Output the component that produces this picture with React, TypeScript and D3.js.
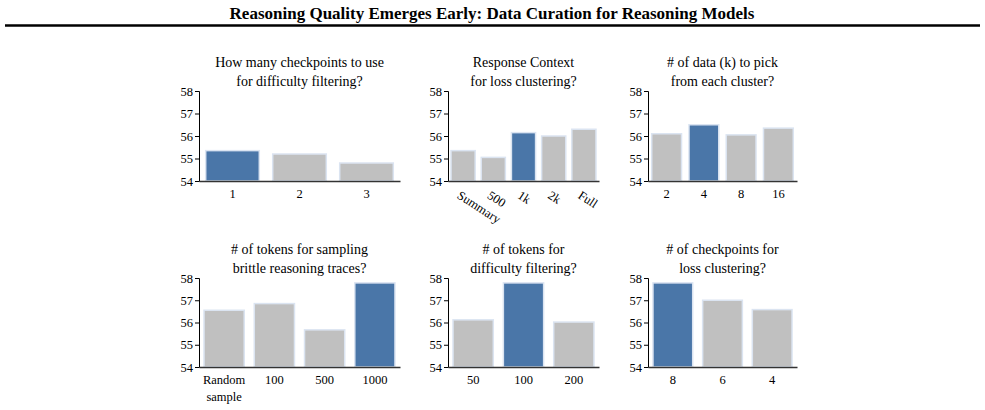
import React, { useEffect, useRef } from 'react'
import * as d3 from 'd3'

// panel titles (two lines each)
const titles = [
  ['How many checkpoints to use', 'for difficulty filtering?'],
  ['Response Context', 'for loss clustering?'],
  ['# of data (k) to pick', 'from each cluster?'],
  ['# of tokens for sampling', 'brittle reasoning traces?'],
  ['# of tokens for', 'difficulty filtering?'],
  ['# of checkpoints for', 'loss clustering?'],
]
const categories = [
  ['1', '2', '3'],
  ['Summary', '500', '1k', '2k', 'Full'],
  ['2', '4', '8', '16'],
  ['Random sample', '100', '500', '1000'],
  ['50', '100', '200'],
  ['8', '6', '4'],
]
const values = [
  [55.35, 55.2, 54.8],
  [55.35, 55.05, 56.15, 56.0, 56.3],
  [56.1, 56.5, 56.05, 56.35],
  [56.55, 56.85, 55.67, 57.78],
  [56.12, 57.78, 56.02],
  [57.78, 57.0, 56.58],
]
const best = [0, 2, 1, 3, 1, 0]
const yTicks = [54, 55, 56, 57, 58]

const colX = [[199, 400], [448, 599], [648, 797]]
const rowY = [[91, 181], [278, 367]]
const FONT = '"Liberation Serif", "Times New Roman", serif'

export default function App() {
  const ref = useRef<SVGSVGElement>(null)

  useEffect(() => {
    const svg = d3.select(ref.current)
    svg.selectAll('*').remove()

    svg.append('text')
      .attr('x', 492).attr('y', 19)
      .attr('text-anchor', 'middle')
      .attr('font-family', FONT).attr('font-weight', 'bold').attr('font-size', 17)
      .text('Reasoning Quality Emerges Early: Data Curation for Reasoning Models')
    svg.append('line')
      .attr('x1', 5).attr('x2', 980).attr('y1', 25.5).attr('y2', 25.5)
      .attr('stroke', '#000').attr('stroke-width', 2.5)

    titles.forEach((t, i) => {
      const [x0, x1] = colX[i % 3]
      const [y0, y1] = rowY[Math.floor(i / 3)]
      const g = svg.append('g')
      const x = d3.scaleBand<string>().domain(categories[i]).range([x0, x1])
        .paddingInner(0.2).paddingOuter(0.1)
      const y = d3.scaleLinear().domain([54, 58]).range([y1, y0])

      g.selectAll('rect').data(values[i]).enter().append('rect')
        .attr('x', (d, j) => x(categories[i][j])!)
        .attr('width', x.bandwidth())
        .attr('y', d => y(d))
        .attr('height', d => y1 - y(d))
        .attr('fill', (d, j) => j === best[i] ? '#4a76a8' : '#c0c0c0')
        .attr('stroke', '#dbe4f1').attr('stroke-width', 1.5)

      const ya = g.append('g').attr('transform', `translate(${x0},0)`)
        .call(d3.axisLeft(y).tickValues(yTicks).tickFormat(d3.format('d')).tickSize(4).tickPadding(2))
      ya.attr('font-family', FONT).attr('font-size', 12.5)
      ya.selectAll('text').attr('fill', '#000')

      const xa = g.append('g').attr('transform', `translate(0,${y1})`)
        .call(d3.axisBottom(x).tickSize(0).tickPadding(8))
      xa.attr('font-family', FONT).attr('font-size', 12.5)
      xa.select('.domain').attr('stroke', '#333').attr('stroke-width', 1.5)
      xa.selectAll('text').attr('fill', '#000')
      if (i === 1) {
        xa.selectAll('text')
          .attr('text-anchor', 'start')
          .attr('dy', '0.35em')
          .attr('transform', 'translate(0,6) rotate(33)')
      }
      if (i === 3) {
        xa.selectAll('text').filter(d => d === 'Random sample').each(function () {
          const el = d3.select(this)
          el.text(null)
          el.append('tspan').attr('x', 0).text('Random')
          el.append('tspan').attr('x', 0).attr('dy', '1.4em').text('sample')
        })
      }

      t.forEach((line, k) => {
        g.append('text')
          .attr('x', (x0 + x1) / 2)
          .attr('y', y0 - 24 + k * 19)
          .attr('text-anchor', 'middle')
          .attr('font-family', FONT).attr('font-size', 14)
          .text(line)
      })
    })
  }, [])

  return (
    <svg ref={ref} width={985} height={410}
      style={{ position: 'absolute', left: 0, top: 0, background: '#fff' }} />
  )
}
